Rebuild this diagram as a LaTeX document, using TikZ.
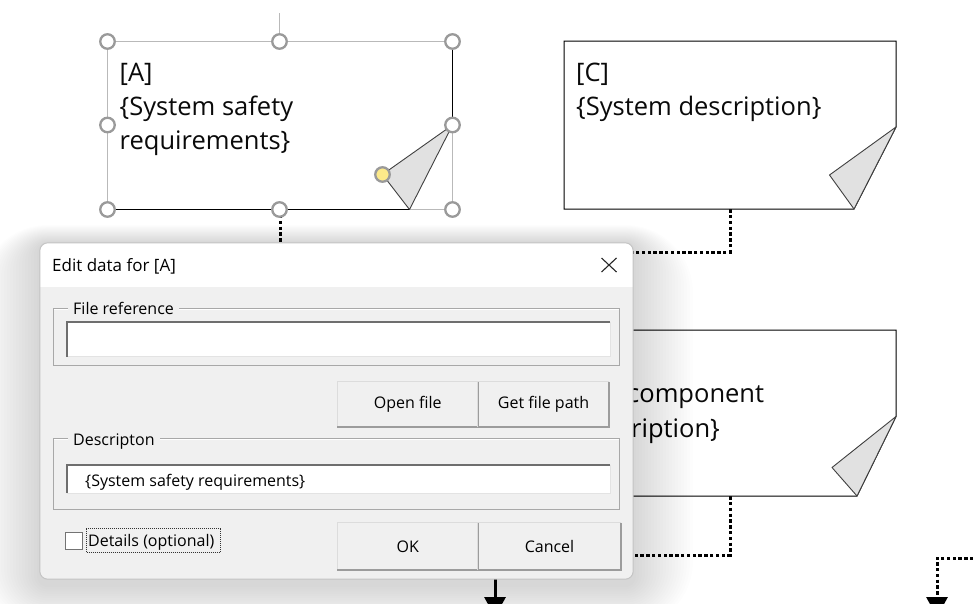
\documentclass[tikz,border=0pt]{standalone}
\usepackage{fontspec}
\setmainfont{Open Sans}
\usetikzlibrary{arrows.meta,calc}
\definecolor{selgray}{HTML}{B9B9B9}
\definecolor{hgray}{HTML}{9A9A9A}
\definecolor{foldgray}{HTML}{E1E1E1}
\definecolor{dlgbg}{HTML}{F0F0F0}
\definecolor{dlgborder}{HTML}{C4C4C4}
\definecolor{hyellow}{HTML}{FCE98A}
\definecolor{grpgray}{HTML}{A8A8A8}
\definecolor{tbdark}{HTML}{6E6E6E}
\definecolor{tblight}{HTML}{E3E3E3}
\definecolor{btndark}{HTML}{9C9C9C}
\definecolor{btnlight}{HTML}{DCDCDC}
\definecolor{txtdark}{HTML}{0A0A0A}
\tikzset{
  area/.style={draw=none, inner sep=0pt},
  doctext/.style={inner sep=0pt, anchor=base west, font=\fontsize{25.5}{34}\selectfont, text=txtdark},
  docshape/.style={fill=white, draw=black, line width=1pt, line join=miter},
  docedge/.style={draw=black, line width=1pt},
  foldshape/.style={fill=foldgray, draw=black!75, line width=0.9pt, line join=round},
  selframe/.style={draw=selgray, line width=1.2pt},
  handle/.style={circle, draw=hgray, fill=white, line width=2.3pt, minimum size=14.5pt, inner sep=0pt},
  yhandle/.style={handle, fill=hyellow},
  conn/.style={draw=black, line width=3pt, dash pattern=on 3.4pt off 2.4pt},
  arrowconn/.style={conn, -{Triangle[width=21pt,length=20pt]}},
  solidarrow/.style={draw=black, line width=3pt, -{Triangle[width=21pt,length=20pt]}},
  dlgtext/.style={inner sep=0pt, anchor=base west, font=\fontsize{16}{19}\selectfont, text=black},
  grplabel/.style={dlgtext, fill=dlgbg, inner xsep=5pt, inner ysep=2pt},
  grpframe/.style={draw=grpgray, line width=1pt},
  textfield/.style={fill=white, draw=none, inner sep=0pt},
  tfdark/.style={draw=tbdark, line width=1.8pt},
  tflight/.style={draw=tblight, line width=1pt},
  button/.style={fill=dlgbg, draw=none, inner sep=0pt, font=\fontsize{16}{19}\selectfont},
  btnhi/.style={draw=btnlight, line width=1pt},
  btnlo/.style={draw=btndark, line width=2pt},
}
\begin{document}
\begin{tikzpicture}[x=1pt,y=-1pt]
\useasboundingbox (0,0) rectangle (973,603);
\clip (0,0) rectangle (973,603);
\fill[white] (0,0) rectangle (973,603);

% ---------- named areas of the three document shapes
\node[area, minimum width=345pt, minimum height=168pt] (A) at (280,125) {};
\node[area, minimum width=332pt, minimum height=168pt] (C) at (730,125) {};
\node[area, minimum width=332pt, minimum height=166pt] (B) at (730,413) {};

% ---------- connector ends
\coordinate (aHid) at (280,275);
\coordinate (cHid) at (610,252);
\coordinate (bHid) at (610,555);
\coordinate (lStart) at (495,570);
\coordinate (lEnd) at (495,617);
\coordinate (rIn) at (985,558);
\coordinate (rEnd) at (937,617);

\draw[conn] (A.south) -- (aHid);
\draw[conn] (C.south) |- (cHid);
\draw[conn] (B.south) |- (bHid);
\draw[solidarrow] (lStart) -- (lEnd);
\draw[arrowconn] (rIn) -| (rEnd);

% ---------- document C
\draw[docshape] (564,41) -- (896,41) -- (896,127) -- (854,209) -- (564,209) -- cycle;
\draw[foldshape] (896,127) -- (829.5,175) -- (854,209) -- cycle;
\node[doctext] (c1) at (576,81.5) {[C]};
\node[doctext] (c2) at (576,115.5) {\{System description\}};

% ---------- document B
\draw[docshape] (564,330) -- (896,330) -- (896,416.5) -- (857,496) -- (564,496) -- cycle;
\draw[foldshape] (896,416.5) -- (832,467.5) -- (857,496) -- cycle;
\node[doctext] (b2) at (627,402) {component};
\node[doctext] (b3) at (631,437.5) {ription\}};

% ---------- document A (selected)
\fill[white] (107.5,41.5) -- (452.5,41.5) -- (452.5,125) -- (409.5,209.5) -- (107.5,209.5) -- cycle;
\draw[selframe] (279.5,13) -- (279.5,41.5);
\draw[selframe] (107.5,41.5) rectangle (452.5,209.5);
\draw[docedge] (452.5,41.5) -- (452.5,125);
\draw[docedge] (409.5,209.5) -- (107.5,209.5);
\draw[foldshape] (452.5,125) -- (382.5,174.5) -- (409.5,209.5) -- cycle;
\node[doctext] (a1) at (119.5,81.5) {[A]};
\node[doctext] (a2) at (119.5,115.5) {\{System safety};
\node[doctext] (a3) at (119.5,149.5) {requirements\}};
\node[handle] (h1) at (107.5,41.5) {};
\node[handle] (h2) at (279.5,41.5) {};
\node[handle] (h3) at (452.5,41.5) {};
\node[handle] (h4) at (107.5,125) {};
\node[handle] (h5) at (452.5,125) {};
\node[handle] (h6) at (107.5,209.5) {};
\node[handle] (h7) at (279.5,209.5) {};
\node[handle] (h8) at (452.5,209.5) {};
\node[yhandle] (hy) at (382.5,174.5) {};

% ---------- dialog shadow
\foreach \i in {1,...,20}{
  \pgfmathsetmacro\sx{\i*3}
  \pgfmathsetmacro\st{\i*0.9}
  \pgfmathsetmacro\sb{6+\i*2.2}
  \fill[black, opacity=0.009, rounded corners={(8+\sx)*1pt}] ({40-\sx},{243-\st}) rectangle ({633+\sx},{579+\sb});
}

% ---------- dialog
\node[area, minimum width=593pt, minimum height=336pt] (dlg) at (336.5,411) {};
\begin{scope}
  \clip[rounded corners=8pt] (dlg.north west) rectangle (dlg.south east);
  \fill[dlgbg] (dlg.north west) rectangle (dlg.south east);
  \fill[white] (dlg.north west) rectangle (633,286.5);
\end{scope}
\draw[draw=dlgborder, line width=1pt, rounded corners=8pt] (dlg.north west) rectangle (dlg.south east);

\node[dlgtext, font=\fontsize{17}{20}\selectfont] (title) at (52,271.5) {Edit data for [A]};
\coordinate (xc) at (609,265);
\draw[line width=1.1pt, black!85] ($(xc)+(-7.5,-7)$) -- ($(xc)+(7.5,7)$);
\draw[line width=1.1pt, black!85] ($(xc)+(-7.5,7)$) -- ($(xc)+(7.5,-7)$);

% group: file reference
\draw[grpframe] (53,308.5) rectangle (619.5,365.5);
\draw[white, line width=1pt] (54,309.5) -- (618.5,309.5);
\node[grplabel] (frl) at (68,314.5) {File reference};
\node[textfield, minimum width=542.5pt, minimum height=34pt] (tf1) at (338.75,339.5) {};
\draw[tflight] (tf1.north east) -- (tf1.south east) -- (tf1.south west);
\draw[tfdark] (tf1.south west) -- (tf1.north west) -- (tf1.north east);

% buttons row 1
\node[button, minimum width=140.5pt, minimum height=45pt] (bopen) at (407.75,404.5) {Open file};
\node[button, minimum width=131pt, minimum height=45pt] (bget) at (543.5,404.5) {Get file path};
\foreach \b in {bopen,bget}{
  \draw[btnhi] (\b.south west) -- (\b.north west) -- (\b.north east);
  \draw[btnlo] (\b.north east) -- (\b.south east) -- (\b.south west);
}

% group: description
\draw[grpframe] (53,438.5) rectangle (619.5,509);
\draw[white, line width=1pt] (54,439.5) -- (618.5,439.5);
\node[grplabel] (dsl) at (68,445) {Descripton};
\node[textfield, minimum width=542.5pt, minimum height=28pt] (tf2) at (338.75,479) {};
\draw[tflight] (tf2.north east) -- (tf2.south east) -- (tf2.south west);
\draw[tfdark] (tf2.south west) -- (tf2.north west) -- (tf2.north east);
\node[dlgtext] (tf2t) at (85,486.5) {\{System safety requirements\}};

% checkbox
\node[draw=black!55, fill=white, line width=1pt, minimum width=17pt, minimum height=17pt, inner sep=0pt] (cb) at (74,540.5) {};
\node[dlgtext] (cbt) at (88,546.5) {Details (optional)};
\draw[black!80, line width=0.8pt, dash pattern=on 1pt off 1pt] (86,528.5) rectangle (220,552);

% buttons row 2
\node[button, minimum width=140.5pt, minimum height=47pt] (bok) at (407.75,546.5) {OK};
\node[button, minimum width=143pt, minimum height=47pt] (bcancel) at (549.5,546.5) {Cancel};
\foreach \b in {bok,bcancel}{
  \draw[btnhi] (\b.south west) -- (\b.north west) -- (\b.north east);
  \draw[btnlo] (\b.north east) -- (\b.south east) -- (\b.south west);
}
\end{tikzpicture}
\end{document}
